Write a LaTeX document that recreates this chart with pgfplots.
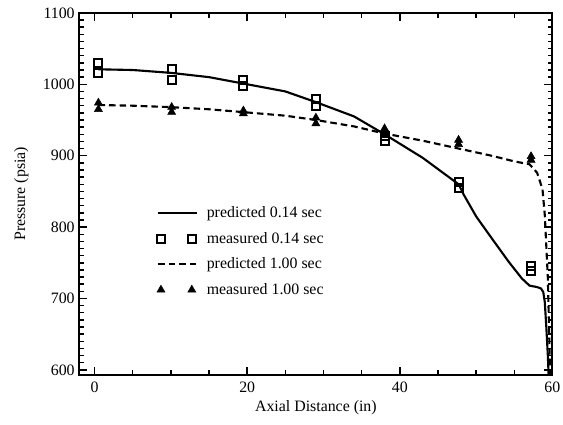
\documentclass[border=0pt]{standalone}
\usepackage{pgfplots}
\pgfplotsset{compat=1.18}
\usepackage{fontspec}
\setmainfont{Liberation Serif}
\usetikzlibrary{calc}

\begin{document}
\begin{tikzpicture}
\begin{axis}[
  scale only axis,
  width=357.75pt, height=273.75pt,
  xmin=-2, xmax=60, ymin=593, ymax=1100,
  xtick={0,20,40,60}, minor x tick num=3,
  ytick={600,700,800,900,1000,1100}, minor y tick num=9,
  tick align=inside,
  major tick length=6pt, minor tick length=3.5pt,
  every tick/.style={black, line width=1.1pt},
  axis line style={line width=1.6pt},
  font=\fontsize{12}{14}\selectfont,
  /pgf/number format/assume math mode=true,
  /pgf/number format/1000 sep={},
  xticklabel style={yshift=-2pt},
  xlabel={Axial Distance (in)},
  ylabel={Pressure (psia)},
  xlabel style={yshift=1pt},
  ylabel style={yshift=4pt},
  legend cell align=left,
  legend style={at={(0.155,0.48)}, anchor=north west, draw=none, fill=none,
    row sep=5.5pt, font=\fontsize{12}{14}\selectfont},
]
\coordinate (sw) at (rel axis cs:0,0);
\coordinate (ne) at (rel axis cs:1,1);

\addplot[black, line width=1.6pt,
  legend image code/.code={\draw[black, line width=1.6pt] (0cm,0cm) -- (1.05cm,0cm);
    \path (1.2cm,0cm);}]
  coordinates {
  (0.5,1021) (5,1020) (10,1016) (15,1010) (19.5,1001) (25,990) (29,975)
  (34,955) (38,930) (43,897) (47.7,860) (48.4,845) (50,815) (52,785)
  (54.3,751) (56,728) (57,718) (58,716) (58.5,714) (58.8,709) (59,695)
  (59.2,660) (59.4,620) (59.5,593)
};
\addlegendentry{predicted 0.14 sec}

\addplot[only marks, mark=square, mark size=3pt, line width=1.5pt, black,
  legend image code/.code={\draw[only marks, mark=square, mark size=3pt, line width=1.5pt] plot coordinates {(0.08cm,0cm) (0.9cm,0cm)};
    \path (1.2cm,0cm);}]
  coordinates {
  (0.5,1030) (0.5,1016) (10.1,1021) (10.1,1006) (19.5,1006) (19.5,997)
  (29,980) (29,970) (38,928) (38,921) (47.7,863) (47.7,855)
  (57.2,745) (57.2,739)
};
\addlegendentry{measured 0.14 sec}

\addplot[black, line width=1.6pt, dash pattern=on 5pt off 3pt,
  legend image code/.code={\draw[black, line width=1.6pt, dash pattern=on 5pt off 3pt] (0cm,0cm) -- (1.05cm,0cm);
    \path (1.2cm,0cm);}]
  coordinates {
  (0.5,971) (5,970) (10,968) (15,965) (19.5,961) (25,956) (29,950)
  (34,941) (38,931) (43,921) (47.7,910) (52,900) (55,892) (57,888)
  (58,876) (58.7,853) (59,817) (59.2,773) (59.4,729) (59.5,684)
  (59.6,640) (59.7,593)
};
\addlegendentry{predicted 1.00 sec}

\addplot[only marks, mark=triangle*, mark size=3.5pt, black,
  legend image code/.code={\draw[only marks, mark=triangle*, mark size=3.5pt] plot coordinates {(0.08cm,0cm) (0.9cm,0cm)};
    \path (1.2cm,0cm);}]
  coordinates {
  (0.5,974) (0.5,965) (10.1,968) (10.1,961) (19.5,963) (19.5,959)
  (29,953) (29,945) (38,938) (38,931) (47.7,922) (47.7,916)
  (57.2,899) (57.2,894)
};
\addlegendentry{measured 1.00 sec}
\end{axis}
\pgfresetboundingbox
\path ($(sw)+(-60pt,-37.5pt)$) rectangle ($(ne)+(8pt,9.75pt)$);
\end{tikzpicture}
\end{document}
